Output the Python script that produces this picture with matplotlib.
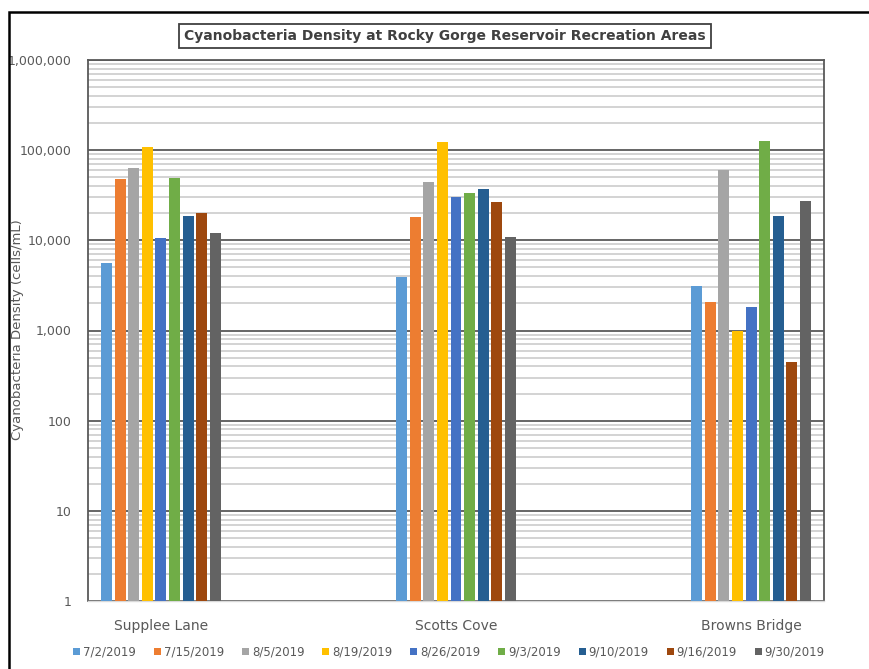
import matplotlib
matplotlib.use('Agg')
import matplotlib.pyplot as plt
import matplotlib.ticker as mticker
from matplotlib.patches import Rectangle
import numpy as np

sites = ['Supplee Lane', 'Scotts Cove', 'Browns Bridge']
dates = ['7/2/2019', '7/15/2019', '8/5/2019', '8/19/2019', '8/26/2019',
         '9/3/2019', '9/10/2019', '9/16/2019', '9/30/2019']

# cells/mL per date, values for [Supplee Lane, Scotts Cove, Browns Bridge]
d_0702 = [5600, 3900, 3100]
d_0715 = [47700, 18000, 2060]
d_0805 = [63000, 44000, 61000]
d_0819 = [108000, 123000, 1000]
d_0826 = [10500, 30000, 1800]
d_0903 = [49000, 33400, 126000]
d_0910 = [18500, 37000, 18600]
d_0916 = [20000, 26500, 450]
d_0930 = [12000, 10800, 27000]
series = [d_0702, d_0715, d_0805, d_0819, d_0826, d_0903, d_0910, d_0916, d_0930]

colors = ['#5B9BD5', '#ED7D31', '#A5A5A5', '#FFC000', '#4472C4',
          '#70AD47', '#255E91', '#9E480E', '#636363']

fig = plt.figure(figsize=(8.69, 6.69), dpi=100)
ax = fig.add_axes([88 / 869, 1 - 601 / 669, 736 / 869, 541 / 669])

x = np.arange(len(sites))
pitch = 0.046
width = 0.037
for i, (vals, c) in enumerate(zip(series, colors)):
    ax.bar(x + (i - 4) * pitch, vals, width, color=c, label=dates[i], zorder=3)

ax.set_yscale('log')
ax.set_ylim(1, 1e6)
ax.set_xlim(-0.247, 2.247)
ax.yaxis.set_major_locator(mticker.LogLocator(base=10, numticks=10))
ax.yaxis.set_minor_locator(mticker.LogLocator(base=10, subs=np.arange(2, 10), numticks=10))
ax.yaxis.set_major_formatter(mticker.FuncFormatter(lambda v, p: f'{v:,.0f}'))
ax.yaxis.set_minor_formatter(mticker.NullFormatter())
ax.grid(True, which='major', axis='y', color='#595959', lw=1.3, zorder=1)
ax.grid(True, which='minor', axis='y', color='#C8C8C8', lw=1.1, zorder=0)
ax.tick_params(axis='y', which='both', length=0, labelsize=9, labelcolor='#595959', pad=12)
ax.set_xticks(x)
ax.set_xticklabels(sites)
ax.tick_params(axis='x', length=0, labelsize=10, labelcolor='#595959', pad=13)

for s in ['left', 'top', 'right']:
    ax.spines[s].set_color('#595959')
    ax.spines[s].set_linewidth(1.3)
ax.spines['bottom'].set_color('#D9D9D9')
ax.spines['bottom'].set_linewidth(1.0)

fig.text(18 / 869, 1 - 330 / 669, 'Cyanobacteria Density (cells/mL)', rotation=90,
         ha='center', va='center', fontsize=9.5, color='#595959')

fig.text(445 / 869, 1 - 36 / 669,
         'Cyanobacteria Density at Rocky Gorge Reservoir Recreation Areas',
         ha='center', va='center', fontsize=10, fontweight='bold', color='#404040',
         bbox=dict(boxstyle='square,pad=0.35', fc='white', ec='#404040', lw=1.3))

fig.legend(loc='center', bbox_to_anchor=(449 / 869, 1 - 652 / 669), ncol=9,
           frameon=False, fontsize=8.5, handlelength=0.6, handleheight=0.6,
           handletextpad=0.25, columnspacing=1.5, labelcolor='#595959')

# outer frame around the chart object
fig.add_artist(Rectangle((9 / 869, -0.05), 1.1, 1 - 12 / 669 + 0.05,
                         transform=fig.transFigure, fill=False,
                         ec='black', lw=1.8))

fig.savefig('out.png', dpi=100)
